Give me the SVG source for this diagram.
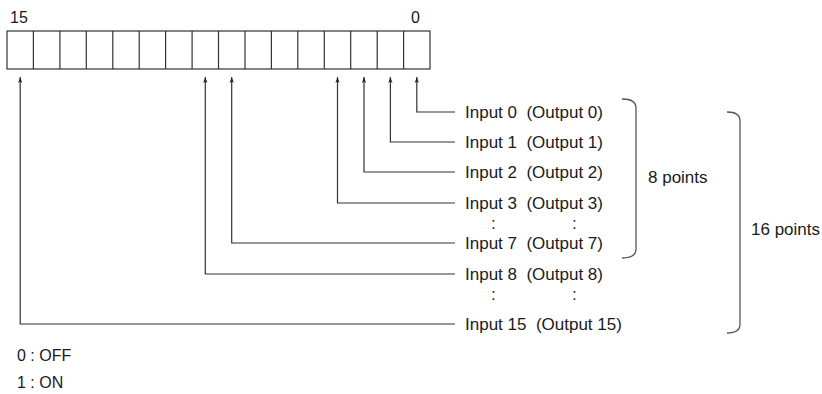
<svg xmlns="http://www.w3.org/2000/svg" width="822" height="394" viewBox="0 0 822 394">
<style>
text{font-family:"Liberation Sans",Arial,sans-serif;font-size:16px;fill:#1a1a1a}
.lb{font-size:17px}
.ln{fill:none;stroke:#333;stroke-width:1.2}
.br{fill:none;stroke:#555;stroke-width:1.3}
.cell{fill:#fff;stroke:#333;stroke-width:1.2}
</style>
<defs>
<marker id="ah" viewBox="0 0 10 10" refX="10" refY="5" markerWidth="9" markerHeight="6" markerUnits="userSpaceOnUse" orient="auto">
<path d="M0,1.5 L10,5 L0,8.5 L2.5,5 Z" fill="#222"/>
</marker>
</defs>
<g id="register">
<rect class="cell" x="7" y="31" width="423" height="38"/>
<path class="ln" d="M33.4,31V69M59.9,31V69M86.3,31V69M112.8,31V69M139.2,31V69M165.6,31V69M192.1,31V69M218.5,31V69M245,31V69M271.4,31V69M297.8,31V69M324.3,31V69M350.7,31V69M377.2,31V69M403.6,31V69"/>
<text x="10" y="23">15</text>
<text x="411" y="23">0</text>
</g>
<g id="connectors">
<path class="ln" marker-end="url(#ah)" d="M455,112H416.8V77"/>
<path class="ln" marker-end="url(#ah)" d="M455,142H390.4V77"/>
<path class="ln" marker-end="url(#ah)" d="M455,172H364V77"/>
<path class="ln" marker-end="url(#ah)" d="M455,203H337.5V77"/>
<path class="ln" marker-end="url(#ah)" d="M455,243H231.7V77"/>
<path class="ln" marker-end="url(#ah)" d="M455,274H205.3V77"/>
<path class="ln" marker-end="url(#ah)" d="M455,324H20.2V77"/>
</g>
<g id="labels">
<text class="lb" x="465" y="118" xml:space="preserve">Input 0  (Output 0)</text>
<text class="lb" x="465" y="148" xml:space="preserve">Input 1  (Output 1)</text>
<text class="lb" x="465" y="178" xml:space="preserve">Input 2  (Output 2)</text>
<text class="lb" x="465" y="209" xml:space="preserve">Input 3  (Output 3)</text>
<text class="lb" x="491" y="229">:</text>
<text class="lb" x="572" y="229">:</text>
<text class="lb" x="465" y="249" xml:space="preserve">Input 7  (Output 7)</text>
<text class="lb" x="465" y="280" xml:space="preserve">Input 8  (Output 8)</text>
<text class="lb" x="491" y="300">:</text>
<text class="lb" x="572" y="300">:</text>
<text class="lb" x="465" y="330" xml:space="preserve">Input 15  (Output 15)</text>
</g>
<g id="bracket8">
<path class="br" d="M622,99 Q636,99 636,108 V249 Q636,258 622,258"/>
<text class="lb" x="648" y="183">8 points</text>
</g>
<g id="bracket16">
<path class="br" d="M727,112 Q740,112 740,121 V324 Q740,333 727,333"/>
<text class="lb" x="751" y="235">16 points</text>
</g>
<g id="legend">
<text x="17" y="361">0 : OFF</text>
<text x="17" y="388">1 : ON</text>
</g>
</svg>
